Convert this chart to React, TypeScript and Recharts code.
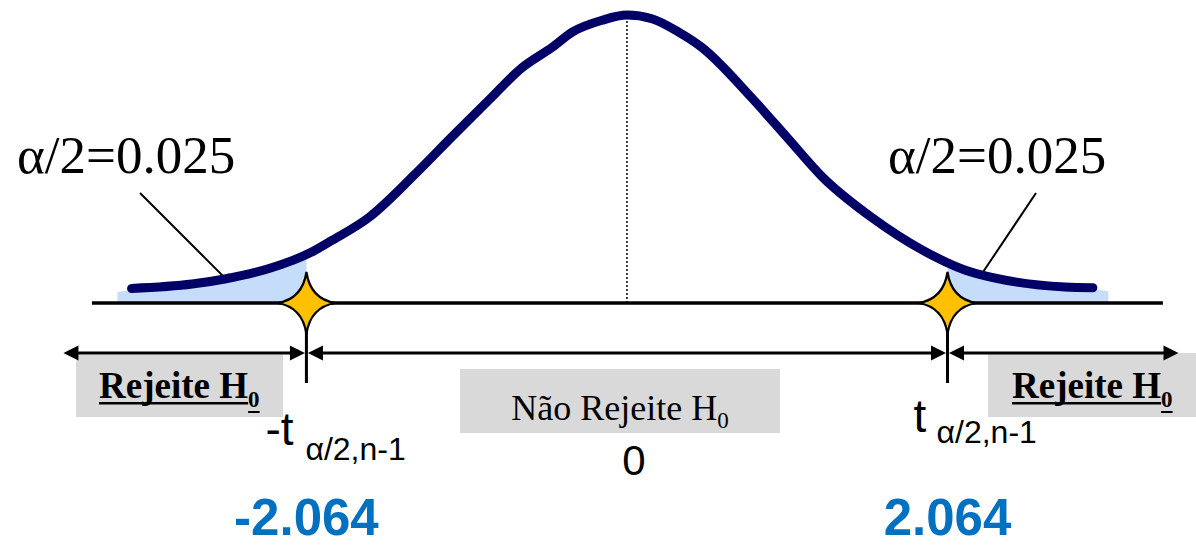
import React from 'react';
import {
  ComposedChart,
  Line,
  Area,
  XAxis,
  YAxis,
  ReferenceLine,
  ReferenceDot,
  Customized
} from 'recharts';

// Student t curve (n = 25, 24 d.f.), heights in density units
const curveT = [-3.19, -2.8, -2.59, -2.31, -2.03, -1.9, -1.66, -1.37, -1.13, -0.89, -0.68, -0.48, -0.35, -0.16, 0, 0.16, 0.33, 0.48, 0.8, 1.03, 1.26, 1.58, 1.9, 2.18, 2.5, 2.82, 3.0];
const curveDensity = [0.02, 0.026, 0.033, 0.047, 0.07, 0.086, 0.118, 0.176, 0.228, 0.279, 0.323, 0.352, 0.373, 0.389, 0.396, 0.391, 0.373, 0.352, 0.283, 0.228, 0.173, 0.117, 0.073, 0.045, 0.029, 0.022, 0.021];

// shaded rejection tails (alpha/2 each)
const leftTailT = [-3.28, -3.19, -2.8, -2.59, -2.31, -2.064];
const leftTailDensity = [0.015, 0.018, 0.024, 0.031, 0.045, 0.06];
const rightTailT = [2.064, 2.18, 2.5, 2.82, 3.0, 3.1];
const rightTailDensity = [0.05, 0.042, 0.027, 0.02, 0.019, 0.016];

// critical values t(alpha/2, n-1)
const criticalValues = [-2.064, 2.064];
const PEAK = 0.396;

const toRows = (xs: number[], ys: number[]) => xs.map((t, i) => ({ t, density: ys[i] }));
const curveData = toRows(curveT, curveDensity);
const leftTail = toRows(leftTailT, leftTailDensity);
const rightTail = toRows(rightTailT, rightTailDensity);

const W = 1196;
const H = 546;
const X_DOMAIN = [-4.037, 3.664];
const Y_DOMAIN = [-0.3343, 0.4168];

const AXIS_EXTENT = [-3.445, 3.451];
const SPAN_Y = -0.0688;
const SPAN_ENDS = [-3.638, 3.561];

const SERIF = "'Times New Roman', 'Liberation Serif', serif";
const SANS = "'Liberation Sans', Arial, sans-serif";

function head(tipX: number, tipY: number, dir: number, len: number, half: number) {
  return `${tipX},${tipY} ${tipX - dir * len},${tipY - half} ${tipX - dir * len},${tipY + half}`;
}

// horizontal double-headed span between two points
function ArrowSpan(props: any) {
  const { x1, y1, x2 } = props;
  const a = Math.min(x1, x2) + 1.5;
  const b = Math.max(x1, x2) - 1.5;
  return (
    <g>
      <line x1={a + 4} y1={y1} x2={b - 4} y2={y1} stroke="#000" strokeWidth={3} />
      <polygon points={head(a, y1, -1, 15, 7.5)} fill="#000" />
      <polygon points={head(b, y1, 1, 15, 7.5)} fill="#000" />
    </g>
  );
}

// yellow 4-point star on the axis, tick, t label and numeric value
function CriticalMarker(props: any) {
  const { cx, cy, value } = props;
  const left = value < 0;
  const c = 4;
  const star = `M0,-31 Q${c},${-c} 29,0 Q${c},${c} 0,31 Q${-c},${c} -29,0 Q${-c},${-c} 0,-31 Z`;
  const tx = left ? -41 : -34;
  const tBase = left ? 142 : 129;
  const subX = left ? -1 : -11;
  const subBase = left ? 157 : 140;
  return (
    <g>
      <line x1={cx} y1={cy + 10} x2={cx} y2={cy + 80} stroke="#000" strokeWidth={3} />
      <path d={star} transform={`translate(${cx},${cy})`} fill="#ffc000" stroke="#000" strokeWidth={2.2} strokeLinejoin="miter" />
      <text x={cx + tx} y={cy + tBase} fontFamily={SANS} fontSize={46} fill="#000">{left ? '-t' : 't'}</text>
      <text x={cx + subX} y={cy + subBase} fontFamily={SANS} fontSize={32} fill="#000">α/2,n-1</text>
      <text x={cx} y={cy + 232} textAnchor="middle" fontFamily={SANS} fontWeight="bold" fontSize={51} fill="#0070c0">
        {value.toFixed(3)}
      </text>
    </g>
  );
}

function Callout({ x1, y1, x2, y2 }: { x1: number; y1: number; x2: number; y2: number }) {
  const ang = Math.atan2(y2 - y1, x2 - x1);
  const len = 15;
  const half = 6;
  const bx = x2 - Math.cos(ang) * len;
  const by = y2 - Math.sin(ang) * len;
  const px = -Math.sin(ang) * half;
  const py = Math.cos(ang) * half;
  return (
    <g>
      <line x1={x1} y1={y1} x2={bx} y2={by} stroke="#000" strokeWidth={2} />
      <polygon points={`${x2},${y2} ${bx + px},${by + py} ${bx - px},${by - py}`} fill="#000" />
    </g>
  );
}

// bold "Rejeite H0" with solid underlines under the word and the subscript
const REJ_SIZE = 37;
const REJ_SUB = 23;
const REJ_MAIN_EM = 4.03; // advance of "Rejeite H" in Times bold, in em

function RejectLabel({ x, y }: { x: number; y: number }) {
  const mainW = REJ_MAIN_EM * REJ_SIZE;
  const subW = 0.5 * REJ_SUB;
  return (
    <g>
      <text x={x} y={y} fontFamily={SERIF} fontWeight="bold" fontSize={REJ_SIZE} fill="#000">
        Rejeite H
        <tspan dy={9} fontSize={REJ_SUB}>0</tspan>
      </text>
      <rect x={x} y={y + 4} width={mainW} height={2.5} fill="#000" />
      <rect x={x + mainW} y={y + 13} width={subW} height={2} fill="#000" />
    </g>
  );
}

function Annotations() {
  return (
    <g>
      <text x={17} y={173} fontFamily={SERIF} fontSize={53} fill="#000">α/2=0.025</text>
      <text x={888} y={173} fontFamily={SERIF} fontSize={53} fill="#000">α/2=0.025</text>
      <Callout x1={140} y1={193} x2={235} y2={288} />
      <Callout x1={1036} y1={193} x2={973} y2={287} />

      <rect x={76} y={355} width={207} height={62} fill="#d9d9d9" />
      <RejectLabel x={99} y={398} />
      <rect x={988} y={353} width={208} height={64} fill="#d9d9d9" />
      <RejectLabel x={1012} y={398} />

      <rect x={460} y={369} width={320} height={64} fill="#d9d9d9" />
      <text x={620} y={420} textAnchor="middle" fontFamily={SERIF} fontSize={36} fill="#000">
        Não Rejeite H
        <tspan dy={8} fontSize={23}>0</tspan>
      </text>
      <text x={634} y={475} textAnchor="middle" fontFamily={SANS} fontSize={42} fill="#000">0</text>
    </g>
  );
}

export default function App() {
  return (
    <div style={{ position: 'absolute', left: 0, top: 0, width: W, height: H, background: '#fff' }}>
      <ComposedChart width={W} height={H} margin={{ top: 0, right: 0, bottom: 0, left: 0 }}>
        <XAxis type="number" dataKey="t" domain={X_DOMAIN} allowDataOverflow hide />
        <YAxis type="number" domain={Y_DOMAIN} allowDataOverflow hide />

        <Area data={leftTail} dataKey="density" type="linear" baseValue={0} fill="#c5dcfb" fillOpacity={1} stroke="none" dot={false} activeDot={false} isAnimationActive={false} />
        <Area data={rightTail} dataKey="density" type="linear" baseValue={0} fill="#c5dcfb" fillOpacity={1} stroke="none" dot={false} activeDot={false} isAnimationActive={false} />

        <ReferenceLine segment={[{ x: 0, y: 0 }, { x: 0, y: PEAK }]} stroke="#000" strokeWidth={1.5} strokeDasharray="2 2" />
        <ReferenceLine segment={[{ x: AXIS_EXTENT[0], y: 0 }, { x: AXIS_EXTENT[1], y: 0 }]} stroke="#000" strokeWidth={3.5} />

        <Line
          data={curveData}
          dataKey="density"
          type="monotone"
          stroke="#000066"
          strokeWidth={9}
          strokeLinecap="round"
          strokeLinejoin="round"
          dot={false}
          activeDot={false}
          isAnimationActive={false}
        />

        <ReferenceLine segment={[{ x: SPAN_ENDS[0], y: SPAN_Y }, { x: criticalValues[0], y: SPAN_Y }]} shape={ArrowSpan} />
        <ReferenceLine segment={[{ x: criticalValues[0], y: SPAN_Y }, { x: criticalValues[1], y: SPAN_Y }]} shape={ArrowSpan} />
        <ReferenceLine segment={[{ x: criticalValues[1], y: SPAN_Y }, { x: SPAN_ENDS[1], y: SPAN_Y }]} shape={ArrowSpan} />

        {criticalValues.map((v) => (
          <ReferenceDot
            key={v}
            x={v}
            y={0}
            r={0}
            shape={(p: any) => <CriticalMarker {...p} value={v} />}
          />
        ))}

        <Customized component={Annotations} />
      </ComposedChart>
    </div>
  );
}
